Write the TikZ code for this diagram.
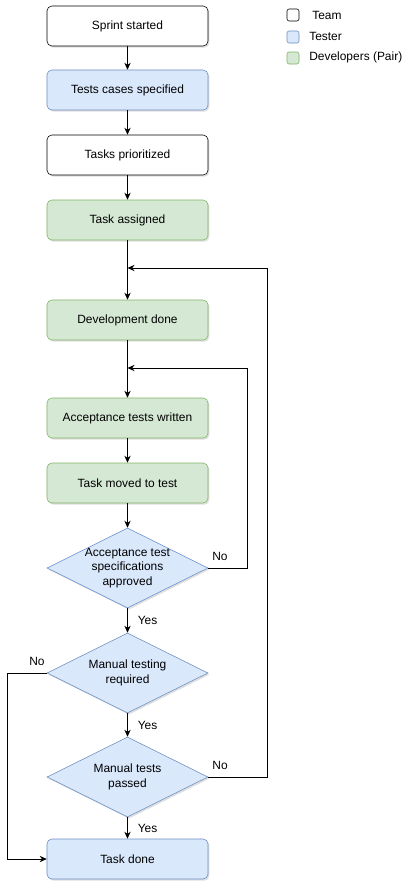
\documentclass[tikz,border=0pt]{standalone}
\usepackage{fontspec}
\setmainfont{Liberation Sans}
\usetikzlibrary{arrows.meta,shapes.geometric,shadows}
\definecolor{testfill}{HTML}{DAE8FC}
\definecolor{testline}{HTML}{6C8EBF}
\definecolor{devfill}{HTML}{D5E8D4}
\definecolor{devline}{HTML}{82B366}

\begin{document}
\begin{tikzpicture}[x=0.025cm, y=-0.025cm,
    every node/.style={font=\fontsize{8.5}{10.3}\selectfont},
    box/.style={rectangle, rounded corners=3.5pt, minimum width=4.025cm, minimum height=1cm,
      inner sep=0pt, drop shadow={shadow xshift=1pt, shadow yshift=-1.2pt, opacity=0.25}},
    team/.style={box, draw=black, fill=white},
    tester/.style={box, draw=testline, fill=testfill},
    devs/.style={box, draw=devline, fill=devfill},
    checktext/.style={align=center, inner sep=0pt},
    check/.style={diamond, draw=testline, fill=testfill, inner sep=0pt,
      minimum width=4.025cm, minimum height=2cm, label={[checktext]center:{#1}},
      drop shadow={shadow xshift=1pt, shadow yshift=-1.2pt, opacity=0.25}},
    arr/.style={draw=black, line width=0.6pt, -{Stealth[length=5pt, width=4.5pt]}},
    lbl/.style={fill=none, inner sep=2pt},
    key/.style={rectangle, rounded corners=1.5pt, minimum size=0.3cm, inner sep=0pt},
    keytext/.style={anchor=west, inner sep=0pt}]
  \useasboundingbox (0,0) rectangle (408,883);

  % legend
  \node[key, draw=black, fill=white] (kteam) at (293,15) {};
  \node[key, draw=testline, fill=testfill] (ktest) at (293,37) {};
  \node[key, draw=devline, fill=devfill] (kdev) at (293,58) {};
  \node[keytext] (lteam) at (312,15) {Team};
  \node[keytext] (ltest) at (309,36) {Tester};
  \node[keytext] (ldev) at (309,57) {Developers (Pair)};

  % flow
  \node[team]   (start)    at (127.5,26)  {Sprint started};
  \node[tester] (cases)    at (127.5,90)  {Tests cases specified};
  \node[team]   (prio)     at (127.5,155) {Tasks prioritized};
  \node[devs]   (assigned) at (127.5,220) {Task assigned};
  \node[devs]   (devdone)  at (127.5,320) {Development done};
  \node[devs]   (written)  at (127.5,418) {Acceptance tests written};
  \node[devs]   (moved)    at (127.5,483) {Task moved to test};
  \node[check={Acceptance test\\specifications\\approved}] (approved) at (127.5,568) {};
  \node[check={Manual testing\\required}] (required) at (127.5,673) {};
  \node[check={Manual tests\\passed}]     (passed)   at (127.5,777) {};
  \node[tester] (done)     at (127.5,859) {Task done};

  \coordinate (back1) at (127.5,368);
  \coordinate (back2) at (127.5,268);

  \draw[arr] (start) -- (cases);
  \draw[arr] (cases) -- (prio);
  \draw[arr] (prio) -- (assigned);
  \draw[arr] (assigned) -- (devdone);
  \draw[arr] (devdone) -- (written);
  \draw[arr] (written) -- (moved);
  \draw[arr] (moved) -- (approved);
  \draw[arr] (approved) -- node[lbl, right, xshift=5pt] {Yes} (required);
  \draw[arr] (required) -- node[lbl, right, xshift=5pt] {Yes} (passed);
  \draw[arr] (passed) -- node[lbl, right, xshift=5pt] {Yes} (done);

  % loops back
  \draw[arr] (approved.east) -- node[lbl, above, pos=0.3, yshift=3pt] {No} ++(39,0) |- (back1);
  \draw[arr] (passed.east) -- node[lbl, above, pos=0.2, yshift=3pt] {No} ++(59,0) |- (back2);
  \draw[arr] (required.west) -- node[lbl, above, pos=0.25, yshift=3pt] {No} ++(-39,0) |- (done.west);
\end{tikzpicture}
\end{document}
